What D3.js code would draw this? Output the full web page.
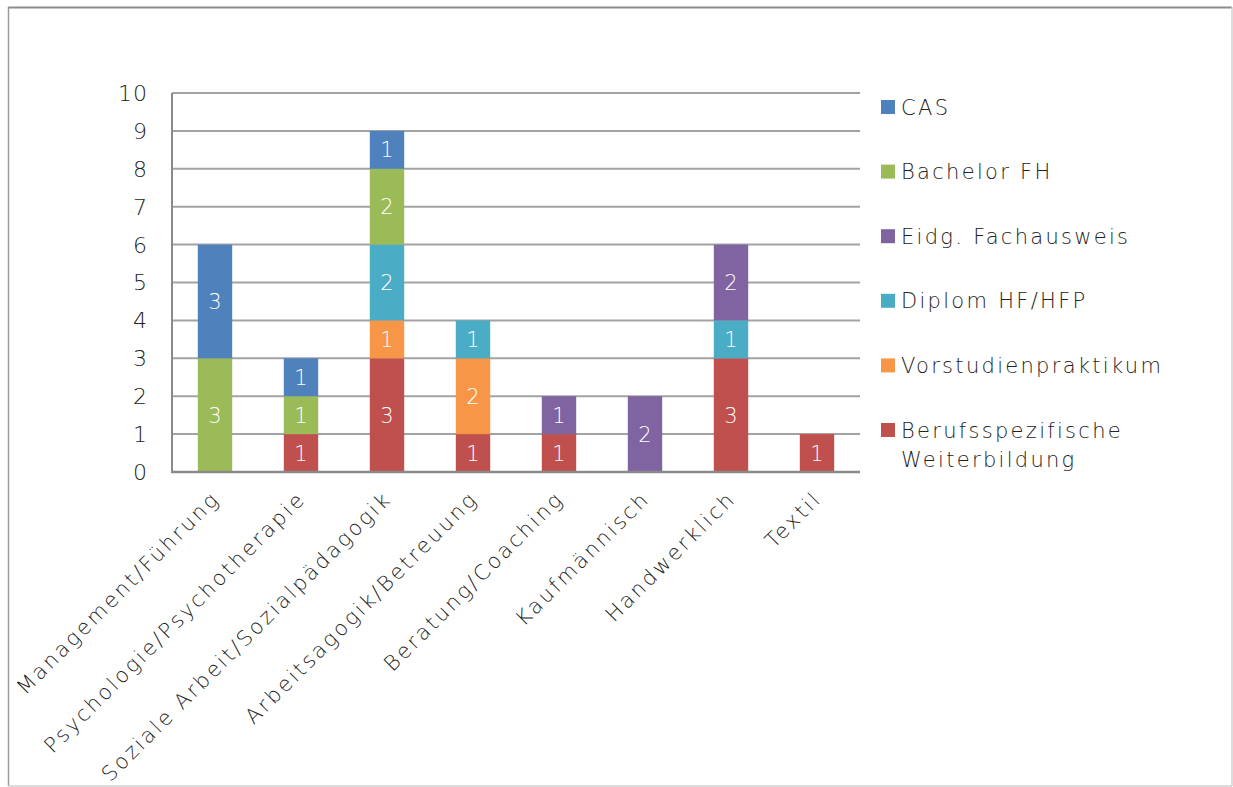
<!DOCTYPE html>
<html>
<head>
<meta charset="utf-8">
<script src="https://cdn.jsdelivr.net/npm/d3@7"></script>
<style>
  body { margin: 0; background: #fff; }
  svg text { font-family: "DejaVu Sans", sans-serif; font-weight: 300; fill: #222; }
</style>
</head>
<body>
<div id="chart"></div>
<script>
// categories and series, bottom of the stack first
var categories = ["Management/Führung", "Psychologie/Psychotherapie", "Soziale Arbeit/Sozialpädagogik",
	"Arbeitsagogik/Betreuung", "Beratung/Coaching", "Kaufmännisch", "Handwerklich", "Textil"];
var seriesNames = ["Berufsspezifische Weiterbildung", "Vorstudienpraktikum", "Diplom HF/HFP",
	"Eidg. Fachausweis", "Bachelor FH", "CAS"];
var berufsspezifisch = [0, 1, 3, 1, 1, 0, 3, 1];
var vorstudien       = [0, 0, 1, 2, 0, 0, 0, 0];
var diplom           = [0, 0, 2, 1, 0, 0, 1, 0];
var fachausweis      = [0, 0, 0, 0, 1, 2, 2, 0];
var bachelor         = [3, 1, 2, 0, 0, 0, 0, 0];
var cas              = [3, 1, 1, 0, 0, 0, 0, 0];
var yTicks = [0, 1, 2, 3, 4, 5, 6, 7, 8, 9, 10];

var seriesValues = [berufsspezifisch, vorstudien, diplom, fachausweis, bachelor, cas];
var colors = ["#C0504D", "#F79646", "#4BACC6", "#8064A2", "#9BBB59", "#4F81BD"];

const W = 1233, H = 787,
	LEFT = 172, RIGHT = 860, TOP = 93, BOTTOM = 472;

var svg = d3.select("#chart").append("svg")
	.attr("width", W).attr("height", H);

// frame
svg.append("line").attr("x1", 8).attr("y1", 7.5).attr("x2", 1232).attr("y2", 7.5)
	.attr("stroke", "#8c8c8c").attr("stroke-width", 2);
svg.append("line").attr("x1", 8.5).attr("y1", 7).attr("x2", 8.5).attr("y2", 786)
	.attr("stroke", "#9a9a9a").attr("stroke-width", 1.5);
svg.append("line").attr("x1", 1232).attr("y1", 7).attr("x2", 1232).attr("y2", 786)
	.attr("stroke", "#d0d0d0").attr("stroke-width", 1.5);
svg.append("line").attr("x1", 8).attr("y1", 786).attr("x2", 1232).attr("y2", 786)
	.attr("stroke", "#d0d0d0").attr("stroke-width", 1.5);

var x = d3.scaleBand().domain(categories).range([LEFT, RIGHT]).paddingInner(0.6).paddingOuter(0.3);
var y = d3.scaleLinear().domain([0, 10]).range([BOTTOM, TOP]);

// gridlines
svg.append("g").selectAll("line")
	.data(yTicks.filter(d => d > 0))
	.enter().append("line")
	.attr("x1", LEFT).attr("x2", RIGHT)
	.attr("y1", d => y(d)).attr("y2", d => y(d))
	.attr("stroke", "#a3a3a3").attr("stroke-width", 2);

// y axis line
svg.append("line").attr("x1", LEFT).attr("x2", LEFT).attr("y1", TOP).attr("y2", BOTTOM)
	.attr("stroke", "#8a8a8a").attr("stroke-width", 2);

// y tick labels
svg.append("g").selectAll("text")
	.data(yTicks)
	.enter().append("text")
	.attr("x", 148).attr("y", d => y(d))
	.attr("dy", "0.36em")
	.attr("text-anchor", "end")
	.style("font-size", "22px")
	.style("letter-spacing", "1px")
	.text(d => d);

// stacked bars
var rows = categories.map((c, i) => {
	var o = {cat: c};
	seriesNames.forEach((s, j) => { o[s] = seriesValues[j][i]; });
	return o;
});
var stack = d3.stack().keys(seriesNames)(rows);

var layers = svg.append("g").selectAll("g")
	.data(stack)
	.enter().append("g")
	.attr("fill", (d, i) => colors[i]);

layers.selectAll("rect")
	.data(d => d.filter(p => p[1] > p[0]))
	.enter().append("rect")
	.attr("x", d => x(d.data.cat))
	.attr("width", x.bandwidth())
	.attr("y", d => y(d[1]))
	.attr("height", d => y(d[0]) - y(d[1]));

layers.selectAll("text")
	.data(d => d.filter(p => p[1] > p[0]))
	.enter().append("text")
	.attr("x", d => x(d.data.cat) + x.bandwidth() / 2)
	.attr("y", d => (y(d[0]) + y(d[1])) / 2)
	.attr("dy", "0.36em")
	.attr("text-anchor", "middle")
	.style("font-size", "21px")
	.style("fill", "#fff")
	.text(d => d[1] - d[0]);

// x axis line
svg.append("line").attr("x1", LEFT - 1).attr("x2", RIGHT).attr("y1", BOTTOM).attr("y2", BOTTOM)
	.attr("stroke", "#8a8a8a").attr("stroke-width", 2.5);

// category labels
svg.append("g").selectAll("text")
	.data(categories)
	.enter().append("text")
	.attr("text-anchor", "end")
	.attr("transform", d => "translate(" + (x(d) + x.bandwidth() / 2 + 6) + "," + 500 + ") rotate(-45)")
	.style("font-size", "21px")
	.style("letter-spacing", "2.6px")
	.text(d => d);

// legend, top item is last series
var legend = svg.append("g").selectAll("g")
	.data(seriesNames.slice().reverse())
	.enter().append("g")
	.attr("transform", (d, i) => "translate(881," + (107 + i * 64.6) + ")");

legend.append("rect")
	.attr("x", 0).attr("y", -7).attr("width", 14).attr("height", 14)
	.attr("fill", (d, i) => colors[colors.length - 1 - i]);

legend.append("text")
	.attr("x", 20).attr("y", 0)
	.style("font-size", "21px")
	.style("letter-spacing", "2.3px")
	.each(function(d) {
		var parts = d === "Berufsspezifische Weiterbildung" ? ["Berufsspezifische", "Weiterbildung"] : [d];
		var t = d3.select(this);
		parts.forEach((p, k) => {
			t.append("tspan").attr("x", 20).attr("dy", k === 0 ? "0.36em" : "1.38em").text(p);
		});
	});
</script>
</body>
</html>
